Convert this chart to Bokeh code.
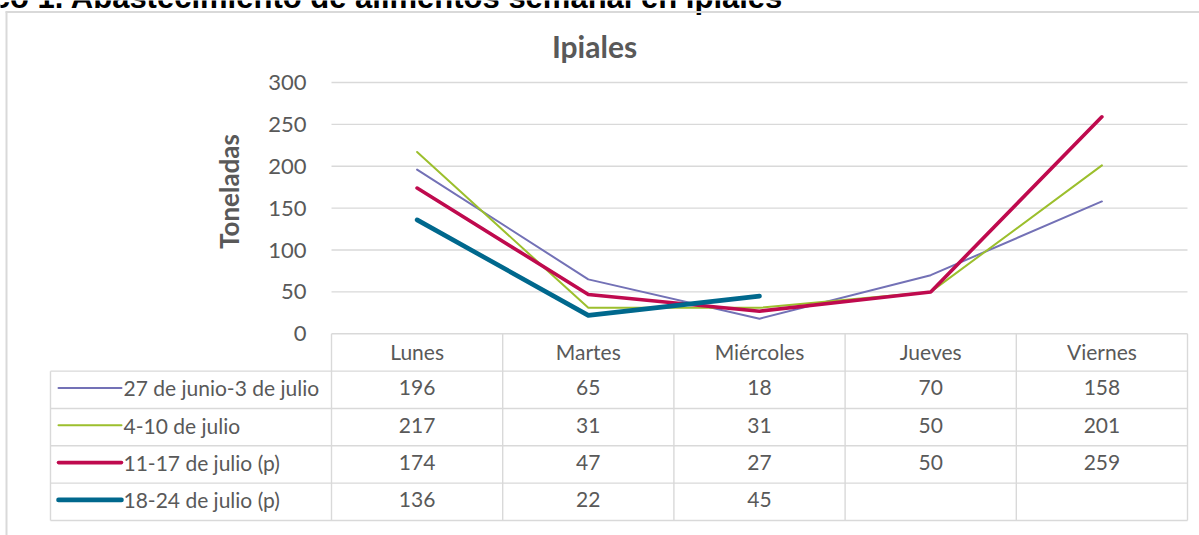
import math
from bokeh.plotting import figure
from bokeh.models import Range1d, FixedTicker
from bokeh.core.properties import value
from bokeh.embed import file_html
from bokeh.resources import INLINE

# ---------------- data ----------------
DAYS = ["Lunes", "Martes", "Miércoles", "Jueves", "Viernes"]
SERIES = ["27 de junio-3 de julio", "4-10 de julio", "11-17 de julio (p)", "18-24 de julio (p)"]
S1 = [196, 65, 18, 70, 158]
S2 = [217, 31, 31, 50, 201]
S3 = [174, 47, 27, 50, 259]
S4 = [136, 22, 45]
VALUES = [S1, S2, S3, S4]
Y_TICKS = [0, 50, 100, 150, 200, 250, 300]
TITLE = "Ipiales"
Y_LABEL = "Toneladas"
HEADING = "Gráfico 1. Abastecimiento de alimentos semanal en Ipiales"

# ---------------- style ----------------
COLORS = ["#7371B6", "#9CBF2D", "#BF0A4E", "#00688D"]
WIDTHS = [2, 2, 3.6, 4.6]
GRID = "#D9D9D9"
TXT = "#595959"
AXT = "#595959"
FONT = "Lato"

W, H = 1199, 535
PX0 = 0                       # page offset of the figure
COL0, COLW = 331.0, 171.2     # page x of first day column, column width
Y0, YPX = 333.3, 251.3 / 300  # page y of value 0, px per unit
ROW0, ROWH = 333.3, 37.33     # table top, row height


def x_of(px):
    return (px - COL0) / COLW


def y_of(py):
    return (Y0 - py) / YPX


def r_of(py):
    return (ROW0 - py) / ROWH


p = figure(width=W, height=H, output_backend="svg", toolbar_location=None,
           x_range=Range1d(x_of(PX0), x_of(PX0 + W)),
           y_range=Range1d(y_of(PX0 + H), y_of(PX0)),
           min_border=0, min_border_left=0, min_border_right=0,
           min_border_top=0, min_border_bottom=0)
p.outline_line_color = None
p.background_fill_color = "white"
p.border_fill_color = "white"
p.grid.visible = False

p.extra_y_ranges = {"table": Range1d(r_of(PX0 + H), r_of(PX0)),
                    "px": Range1d(PX0 + H, PX0)}
p.extra_x_ranges = {"px": Range1d(PX0, PX0 + W)}

# y axis (drawn at the start of the day columns)
ya = p.yaxis[0]
ya.ticker = FixedTicker(ticks=Y_TICKS)
ya.fixed_location = 0
ya.axis_line_color = None
ya.major_tick_line_color = None
ya.minor_tick_line_color = None
ya.major_label_standoff = 19
ya.major_label_text_font = FONT
ya.major_label_text_font_size = "22px"
ya.major_label_text_color = AXT

# x axis -> header row of the data table
xa = p.xaxis[0]
xa.ticker = FixedTicker(ticks=[i + 0.5 for i in range(len(DAYS))])
xa.major_label_overrides = {i + 0.5: d for i, d in enumerate(DAYS)}
xa.fixed_location = 0
xa.axis_line_color = None
xa.major_tick_line_color = None
xa.minor_tick_line_color = None
xa.major_label_standoff = -1
xa.major_label_text_font = FONT
xa.major_label_text_font_size = "21px"
xa.major_label_text_color = TXT

n = len(DAYS)
# gridlines
p.segment(x0=0, x1=n, y0=Y_TICKS, y1=Y_TICKS, line_color=GRID, line_width=1.4)

# table lines
leg_left = x_of(50)
rows = len(SERIES)
p.segment(x0=leg_left, x1=n, y0=[-(k + 1) for k in range(rows + 1)],
          y1=[-(k + 1) for k in range(rows + 1)], line_color=GRID, line_width=1.4,
          y_range_name="table")
p.segment(x0=list(range(n + 1)), x1=list(range(n + 1)), y0=0, y1=-(rows + 1),
          line_color=GRID, line_width=1.4, y_range_name="table")
p.segment(x0=leg_left, x1=leg_left, y0=-1, y1=-(rows + 1),
          line_color=GRID, line_width=1.4, y_range_name="table")

# series lines
for vals, c, w in zip(VALUES, COLORS, WIDTHS):
    p.line(x=[i + 0.5 for i in range(len(vals))], y=vals, line_color=c,
           line_width=w, line_join="round", line_cap="round")

# table contents
for k, (name, vals, c, w) in enumerate(zip(SERIES, VALUES, COLORS, WIDTHS)):
    yc = -(k + 1.45)
    p.segment(x0=x_of(58), x1=x_of(121), y0=yc, y1=yc, line_color=c,
              line_width=w, line_cap="round", y_range_name="table")
    p.text(x=[x_of(123)], y=[yc], text=[name], text_font=value(FONT),
           text_font_size="21px", text_color=TXT, text_align="left",
           text_baseline="middle", y_range_name="table")
    p.text(x=[i + 0.5 for i in range(len(vals))], y=[yc] * len(vals),
           text=[str(v) for v in vals], text_font=value(FONT),
           text_font_size="21px", text_color=TXT, text_align="center",
           text_baseline="middle", y_range_name="table")

# title, axis title, clipped heading, chart border
p.text(x=[594], y=[45], text=[TITLE], text_font=value(FONT), text_font_style="bold",
       text_font_size="30px", text_color=AXT, text_align="center",
       text_baseline="middle", x_range_name="px", y_range_name="px")
p.text(x=[228], y=[191], text=[Y_LABEL], angle=math.pi / 2, text_font=value(FONT),
       text_font_style="bold", text_font_size="26px", text_color=AXT,
       text_align="center", text_baseline="middle", x_range_name="px", y_range_name="px")
p.text(x=[783], y=[-3], text=[HEADING], text_font=value("Liberation Sans"),
       text_font_style="bold", text_font_size="31px", text_color="black",
       text_align="right", text_baseline="alphabetic", x_range_name="px", y_range_name="px")
p.segment(x0=[5, 6], x1=[PX0 + W, 6], y0=[11.5, 11], y1=[11.5, PX0 + H],
          line_color=GRID, line_width=2, x_range_name="px", y_range_name="px")

open("out.html", "w").write(file_html(p, INLINE))
